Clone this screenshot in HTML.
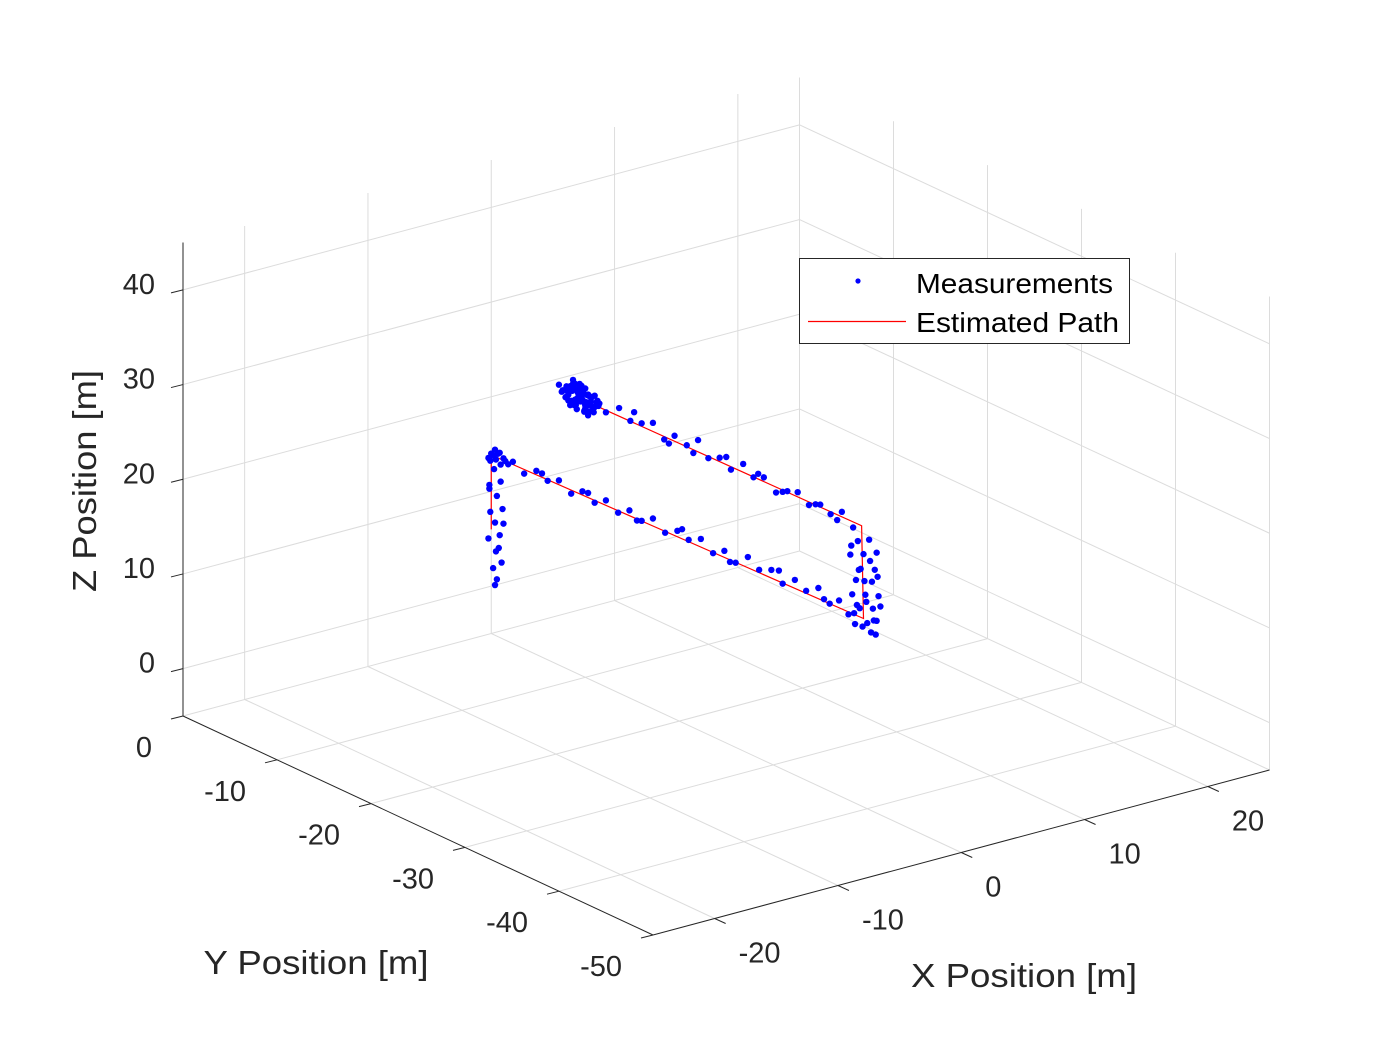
<!DOCTYPE html>
<html><head><meta charset="utf-8"><style>
html,body{margin:0;padding:0;background:#fff;}
svg{display:block;font-family:"Liberation Sans",Arial,sans-serif;}
</style></head><body>
<svg id="chart" width="1400" height="1050" viewBox="0 0 1400 1050" xmlns="http://www.w3.org/2000/svg">
<rect width="1400" height="1050" fill="#fff"/>
<g id="grid"></g>
<g id="axes"></g>
<g id="path"></g>
<g id="meas"></g>
<text transform="translate(96,481) rotate(-90)" text-anchor="middle" font-size="33" textLength="222" lengthAdjust="spacingAndGlyphs" fill="#262626">Z Position [m]</text>
<text x="316" y="974" text-anchor="middle" font-size="33" textLength="225" lengthAdjust="spacingAndGlyphs" fill="#262626">Y Position [m]</text>
<text x="1024" y="987" text-anchor="middle" font-size="33" textLength="226" lengthAdjust="spacingAndGlyphs" fill="#262626">X Position [m]</text>
<g>
<rect x="799.5" y="258.5" width="330" height="85" fill="#fff" stroke="#262626" stroke-width="1"/>
<circle cx="858" cy="281" r="2.6" fill="#0000ff"/>
<text x="916" y="293" font-size="28" textLength="197" lengthAdjust="spacingAndGlyphs" fill="#000">Measurements</text>
<line x1="808" y1="321.5" x2="906" y2="321.5" stroke="#ff0000" stroke-width="1.2"/>
<text x="916" y="332" font-size="28" textLength="203" lengthAdjust="spacingAndGlyphs" fill="#000">Estimated Path</text>
</g>
</svg>
<script>
const xTicks=[-20,-10,0,10,20];
const yTicks=[-10,-20,-30,-40,-50,0];
const zTicks=[0,10,20,30,40];
const xTickLabels=["-20","-10","0","10","20"];
const yTickLabels=["-10","-20","-30","-40","-50","0"];
const zTickLabels=["0","10","20","30","40"];
const pathX=[0,0,0,0,0];
const pathY=[-10.8,-39.4,-39.6,0,0];
const pathZ=[24.2,24.6,14.9,13.85,6.0];
const measY=[-9.4,-8.6,-10.2,-9.0,-9.8,-8.2,-10.6,-9.3,-8.8,-10.0,-9.6,-8.4,-11.0,-9.1,-10.3,-7.8,-9.9,-8.9,-10.8,-9.5,-8.0,-7.2,-11.4,-9.2,-10.1,
-8.5,-10.4,-9.7,-8.1,-9.0,-10.9,-8.7,-9.4,-10.0,-8.3,-9.6,-11.2,-7.6,-9.2,-10.5,-8.9,-9.8,-10.7,-8.0,-9.3,
-10.9,-11.3,-10.2,-9.6,-8.7,-11.0,-10.5,-9.9,-8.4,-7.9,-10.6,-9.1,-8.2,-11.5,-10.0,-9.4,-8.8,-7.5,-10.3,-9.7,
-12.2,-13.6,-14.8,-16.0,-17.2,-18.4,-19.5,-20.8,-22.0,-23.1,-24.3,-25.5,-26.8,-27.9,-29.0,-30.3,-31.5,-32.6,-33.8,-35.0,-36.1,-37.3,-15.2,-21.5,-28.4,-34.5,-18.9,-25.0,-31.0,-36.8,
-38.5,-40.2,-39.0,-41.0,-39.6,-38.2,-40.8,-39.3,-40.5,-38.8,-41.2,-39.8,-38.4,-40.6,-39.2,-41.0,-38.6,-40.0,-39.5,-40.9,-38.9,-40.3,-39.7,-38.0,-40.4,-41.4,-39.1,-38.3,-40.7,-39.9,-41.1,-38.7,
-37.0,-36.0,-34.8,-33.5,-32.3,-31.0,-29.8,-28.5,-27.3,-26.0,-24.8,-23.6,-22.3,-21.0,-19.8,-18.5,-17.2,-16.0,-14.7,-13.5,-12.2,-11.0,-9.7,-8.5,-7.2,-6.0,-4.8,-3.5,-2.3,-35.4,-30.6,-25.4,-20.3,-15.5,-10.3,-5.4,
-0.5,0,-1.0,-0.2,-1.3,0.3,-0.7,-1.8,-0.9,0.1,-1.5,-0.4,
-0.3,-1.0,0.2,-0.6,-1.2,0.1,-0.4,-0.9,0.3,-0.5,-1.1,-0.2,-0.6,-0.4,-1.3,0.2,-0.8];
const measZ=[24.2,24.6,23.8,23.6,24.9,24.0,24.4,25.2,23.2,23.4,24.5,25.0,24.0,24.0,25.0,24.3,23.0,25.5,23.6,23.9,24.8,24.6,24.3,24.7,24.1,
23.5,24.9,25.3,24.4,23.3,23.9,25.4,24.3,23.7,24.8,24.5,24.6,24.2,25.0,24.3,23.8,24.0,24.9,23.7,24.4,
23.4,24.8,24.9,25.6,25.8,25.2,23.3,23.1,23.0,23.6,24.0,22.9,23.4,24.6,25.5,25.7,24.9,24.0,22.8,24.2,
24.0,25.1,24.3,24.6,25.2,24.0,24.9,24.5,25.6,24.2,24.8,24.1,25.3,24.4,24.9,23.9,24.6,25.0,24.2,24.8,24.3,25.1,25.4,24.0,25.0,24.6,23.8,25.2,24.3,24.0,
24.0,23.5,22.8,22.5,21.7,21.0,20.6,20.0,19.2,18.6,18.0,17.5,16.9,16.4,15.8,15.3,15.0,14.6,14.0,13.8,16.0,21.3,18.9,14.6,13.8,17.0,19.8,22.0,15.2,16.8,20.0,13.9,
15.6,14.8,15.9,15.0,15.6,14.6,15.5,14.9,15.7,14.5,15.2,14.4,15.3,14.6,15.0,14.2,15.1,14.3,14.8,14.0,14.7,13.9,14.5,13.7,14.5,13.9,14.4,13.5,14.2,15.0,15.8,14.3,15.4,14.1,14.6,14.4,
13.6,14.0,13.3,13.9,14.1,13.4,14.3,13.7,14.5,13.2,13.9,14.6,
12.5,11.5,10.6,9.8,8.7,7.8,6.9,5.8,4.9,3.9,3.0,2.0,1.0,0.3,7.2,10.2,4.4];
const xMin=-25,xMax=25,yMin=-50,yMax=0,zMin=-5,zMax=45;
function P(x,y,z){return [183+(x-xMin)*12.33+(yMax-y)*9.4, 716-(x-xMin)*3.3+(yMax-y)*4.38-(z-zMin)*9.47];}
const NS="http://www.w3.org/2000/svg";
function mk(tag,parent,attrs){const e=document.createElementNS(NS,tag);for(const k in attrs)e.setAttribute(k,attrs[k]);parent.appendChild(e);return e;}
function seg(parent,a,b,stroke,w){return mk('line',parent,{x1:a[0],y1:a[1],x2:b[0],y2:b[1],stroke:stroke,'stroke-width':w});}
const grid=document.getElementById('grid'),axes=document.getElementById('axes');
const GC="#dcdcdc";
xTicks.concat([xMax]).forEach(x=>{const l=seg(grid,P(x,0,zMin),P(x,0,zMax),GC,1);

});
zTicks.forEach(z=>{const l=seg(grid,P(xMin,0,z),P(xMax,0,z),GC,1);


const l2=seg(grid,P(xMax,0,z),P(xMax,yMin,z),GC,1);

});
yTicks.forEach(y=>{if(y===0)return;const l=seg(grid,P(xMax,y,zMin),P(xMax,y,zMax),GC,1);

});
xTicks.forEach(x=>{const l=seg(grid,P(x,0,zMin),P(x,yMin,zMin),GC,1);

});
yTicks.forEach(y=>{if(y===0||y===yMin)return;const l=seg(grid,P(xMin,y,zMin),P(xMax,y,zMin),GC,1);

});
seg(grid,P(xMin,0,zMin),P(xMax,0,zMin),GC,1);
seg(grid,P(xMax,0,zMin),P(xMax,yMin,zMin),GC,1);
const AC="#262626";
let a=seg(axes,P(xMin,yMin,zMin),P(xMax,yMin,zMin),AC,1);


a=seg(axes,P(xMin,yMax,zMin),P(xMin,yMin,zMin),AC,1);


a=seg(axes,P(xMin,yMax,zMin),P(xMin,yMax,zMax),AC,1);


function txt(p,s,anchor,name){const t=mk('text',axes,{x:p[0],y:p[1],'text-anchor':anchor,'font-size':29,fill:AC});t.textContent=s;

}
xTicks.forEach((x,i)=>{const p=P(x,yMin,zMin);seg(axes,p,[p[0]+11,p[1]+5],AC,1);txt([p[0]+24,p[1]+44],xTickLabels[i],'start','x-tick-label');});
yTicks.forEach((y,i)=>{const p=P(xMin,y,zMin);seg(axes,p,[p[0]-12,p[1]+3],AC,1);txt([p[0]-31,p[1]+41],yTickLabels[i],'end','y-tick-label');});
zTicks.forEach((z,i)=>{const p=P(xMin,0,z);seg(axes,p,[p[0]-12,p[1]+3],AC,1);txt([p[0]-28,p[1]+4],zTickLabels[i],'end','z-tick-label');});
const pts=pathY.map((y,i)=>P(pathX[i],y,pathZ[i]).join(',')).join(' ');
const pl=mk('polyline',document.getElementById('path'),{points:pts,fill:'none',stroke:'#ff0000','stroke-width':1.2});


const mg=document.getElementById('meas');
measY.forEach((y,i)=>{const p=P(0,y,measZ[i]);const c=mk('circle',mg,{cx:p[0],cy:p[1],r:3.2,fill:'#0000ff'});

});
</script>
</body></html>
